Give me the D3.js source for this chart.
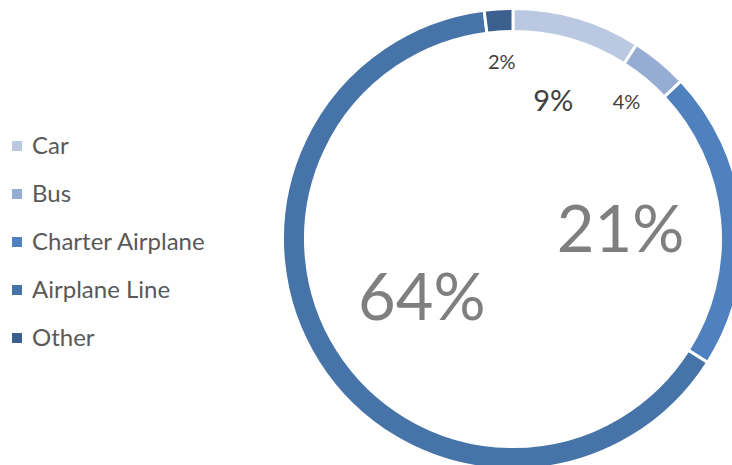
<!DOCTYPE html>
<html>
<head>
<meta charset="utf-8">
<script src="https://cdn.jsdelivr.net/npm/d3@7"></script>
<style>
  body { margin: 0; background: #fff; }
  svg { display: block; font-family: Lato, "Open Sans", sans-serif; }
</style>
</head>
<body>
<div id="chart"></div>
<script>
// chart data
const categories = ["Car", "Bus", "Charter Airplane", "Airplane Line", "Other"];
const values = [9, 4, 21, 64, 2];
const colours = ["#bac8e2", "#95acd3", "#4e81bd", "#4674a9", "#3b5f8f"];

const width = 732, height = 465;
const cx = 513, cy = 239;
const outerR = 229, innerR = 209;

const svg = d3.select("#chart")
  .append("svg")
    .attr("width", width)
    .attr("height", height);

// legend
const legend = svg.append("g")
  .attr("transform", "translate(12, 146)");

const row = legend.selectAll("g")
  .data(categories)
  .join("g")
    .attr("transform", (d, i) => `translate(0, ${i * 48})`);

row.append("rect")
  .attr("x", 0)
  .attr("y", -5)
  .attr("width", 10)
  .attr("height", 10)
  .style("fill", (d, i) => colours[i]);

row.append("text")
  .attr("x", 20)
  .attr("dy", "0.35em")
  .text(d => d)
  .style("fill", "#595959")
  .style("font-size", "24px");

// donut
const pie = d3.pie().sort(null).value(d => d);
const arcs = pie(values);

const arc = d3.arc()
  .innerRadius(innerR - 1.5)
  .outerRadius(outerR + 1.5);

const g = svg.append("g")
  .attr("transform", `translate(${cx}, ${cy})`);

g.selectAll("path")
  .data(arcs)
  .join("path")
    .attr("d", arc)
    .style("fill", (d, i) => colours[i])
    .style("stroke", "#fff")
    .style("stroke-width", 3);

// labels: bigger share -> bigger text, pulled further in
const fontSize = d3.scaleLinear().domain([4, 9, 21]).range([20, 29, 65]).clamp(true);
const labelR = d3.scaleLinear().domain([20, 29, 65]).range([178, 144, 108]);

g.selectAll("text.pct")
  .data(arcs)
  .join("text")
    .attr("class", "pct")
    .attr("transform", d => {
      const r = labelR(fontSize(d.data));
      const c = d3.arc().innerRadius(r).outerRadius(r).centroid(d);
      return `translate(${c[0]}, ${c[1]})`;
    })
    .attr("dy", "0.36em")
    .style("text-anchor", "middle")
    .style("font-size", d => fontSize(d.data) + "px")
    .style("fill", d => d.data > 15 ? "#7f7f7f" : "#404040")
    .text(d => d.data + "%");
</script>
</body>
</html>
